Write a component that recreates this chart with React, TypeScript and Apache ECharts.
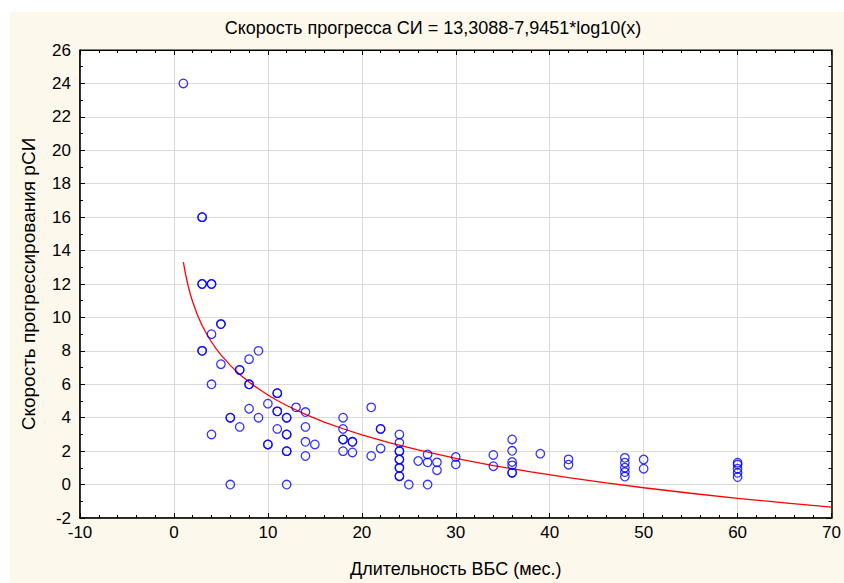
import React, { useEffect, useRef } from "react";
import * as echarts from "echarts";

const titleText = "Скорость прогресса СИ = 13,3088-7,9451*log10(x)";
const xAxisName = "Длительность ВБС (мес.)";
const yAxisName = "Скорость прогрессирования рСИ";

const durations = [
  1,
  3, 3, 3, 3, 3, 3,
  4, 4, 4, 4, 4,
  5, 5, 5,
  6, 6, 6,
  7, 7, 7,
  8, 8, 8, 8,
  9, 9,
  10, 10, 10,
  11, 11, 11, 11, 11,
  12, 12, 12, 12, 12, 12, 12,
  13,
  14, 14, 14, 14,
  15,
  18, 18, 18, 18, 18,
  19, 19, 19,
  21, 21,
  22, 22, 22,
  24, 24, 24, 24, 24, 24, 24, 24, 24, 24,
  25,
  26,
  27, 27, 27,
  28, 28,
  30, 30,
  34, 34,
  36, 36, 36, 36, 36, 36,
  39,
  42, 42,
  48, 48, 48, 48, 48,
  50, 50,
  60, 60, 60, 60, 60,
];

const rates = [
  24,
  16, 16, 12, 12, 8, 8,
  12, 12, 9, 6, 3,
  9.6, 9.6, 7.2,
  4, 4, 0,
  6.86, 6.86, 3.45,
  7.5, 6, 6, 4.54,
  8, 4,
  4.84, 2.4, 2.4,
  5.47, 5.47, 4.38, 4.38, 3.33,
  4, 4, 3, 3, 2, 2, 0,
  4.62,
  4.34, 3.45, 2.56, 1.71,
  2.4,
  4, 3.33, 2.7, 2.7, 2,
  2.56, 2.56, 1.92,
  4.62, 1.71,
  3.33, 3.33, 2.16,
  3, 2.5, 2, 2, 1.5, 1.5, 1, 1, 0.5, 0.5,
  0,
  1.41,
  1.8, 1.33, 0,
  1.33, 0.86,
  1.65, 1.21,
  1.77, 1.1,
  2.7, 2.02, 1.35, 1.15, 0.71, 0.71,
  1.85,
  1.51, 1.19,
  1.6, 1.31, 1.01, 0.75, 0.48,
  1.5, 0.95,
  1.31, 1.2, 0.95, 0.7, 0.45,
];

// fitted curve (y = 13,3088 - 7,9451*log10(x))
const curveX = [1, 1.25, 1.5, 1.75, 2, 2.5, 3, 3.5, 4, 4.5, 5, 6, 7, 8, 9, 10, 11, 12, 14, 16, 18, 20, 23, 26, 30, 34, 38, 42, 46, 50, 55, 60, 65, 70];
const curveY = [13.31, 12.54, 11.91, 11.38, 10.92, 10.15, 9.52, 8.99, 8.53, 8.12, 7.76, 7.13, 6.59, 6.13, 5.73, 5.36, 5.03, 4.73, 4.2, 3.74, 3.34, 2.97, 2.49, 2.07, 1.57, 1.14, 0.76, 0.41, 0.1, -0.19, -0.52, -0.82, -1.09, -1.35];

const xTicks = { min: -10, max: 70, interval: 10 };
const yTicks = { min: -2, max: 26, interval: 2 };

const FONT = "Liberation Sans, Arial, sans-serif";

export default function App() {
  const ref = useRef<HTMLDivElement>(null);
  useEffect(() => {
    if (!ref.current) return;
    const chart = echarts.init(ref.current, null, { renderer: "svg" });
    const points = durations.map((d, i) => [d, rates[i]]);
    const curve = curveX.map((x, i) => [x, curveY[i]]);
    const axisBase = {
      axisLine: { show: true, onZero: false, lineStyle: { color: "#000", width: 1.5 } },
      axisTick: { show: true, inside: true, length: 5, lineStyle: { color: "#000" } },
    };
    chart.setOption({
      animation: false,
      backgroundColor: "#ffffff",
      textStyle: { fontFamily: FONT },
      graphic: [
        {
          type: "rect",
          z: -10,
          silent: true,
          shape: { x: 10, y: 12, width: 834, height: 571 },
          style: { fill: "#FDF8EC" },
        },
        {
          type: "text",
          x: 433,
          y: 28,
          style: {
            text: titleText,
            fontFamily: FONT,
            fontSize: 18,
            fill: "#000",
            textAlign: "center",
            textVerticalAlign: "middle",
          },
        },
      ],
      grid: {
        left: 80,
        top: 50,
        right: 7,
        bottom: 63,
        show: true,
        backgroundColor: "#ffffff",
        borderColor: "#000",
        borderWidth: 1,
      },
      xAxis: [
        {
          type: "value",
          ...xTicks,
          position: "bottom",
          ...axisBase,
          minorTick: { show: true, splitNumber: 5, length: 3, lineStyle: { color: "#000" } },
          splitLine: { show: true, lineStyle: { color: "#DADADA", width: 1 } },
          axisLabel: { color: "#000", fontSize: 17, margin: 6, fontFamily: FONT },
          name: xAxisName,
          nameLocation: "middle",
          nameGap: 42,
          nameTextStyle: { color: "#000", fontSize: 18, fontFamily: FONT },
        },
        {
          type: "value",
          ...xTicks,
          position: "top",
          ...axisBase,
          axisLine: { show: true, onZero: false, lineStyle: { color: "#000", width: 1 } },
          minorTick: { show: true, splitNumber: 5, length: 3, lineStyle: { color: "#000" } },
          splitLine: { show: false },
          axisLabel: { show: false },
        },
      ],
      yAxis: [
        {
          type: "value",
          ...yTicks,
          position: "left",
          ...axisBase,
          minorTick: { show: true, splitNumber: 2, length: 3, lineStyle: { color: "#000" } },
          splitLine: { show: true, lineStyle: { color: "#DADADA", width: 1 } },
          axisLabel: { color: "#000", fontSize: 17, margin: 9, fontFamily: FONT },
          name: yAxisName,
          nameLocation: "middle",
          nameGap: 42,
          nameRotate: 90,
          nameTextStyle: { color: "#000", fontSize: 19, fontFamily: FONT },
        },
        {
          type: "value",
          ...yTicks,
          position: "right",
          ...axisBase,
          minorTick: { show: true, splitNumber: 2, length: 3, lineStyle: { color: "#000" } },
          splitLine: { show: false },
          axisLabel: { show: false },
        },
      ],
      series: [
        {
          type: "line",
          data: curve,
          showSymbol: false,
          symbol: "none",
          smooth: false,
          lineStyle: { color: "#FF0000", width: 1.3 },
          z: 2,
          silent: true,
        },
        {
          type: "scatter",
          data: points,
          symbol: "circle",
          symbolSize: 8.5,
          itemStyle: { color: "rgba(0,0,0,0)", borderColor: "#0000FF", borderWidth: 1.3 },
          z: 3,
        },
      ],
    });
    return () => chart.dispose();
  }, []);
  return (
    <div
      ref={ref}
      style={{ position: "fixed", left: 0, top: 0, width: 844, height: 583 }}
    />
  );
}
